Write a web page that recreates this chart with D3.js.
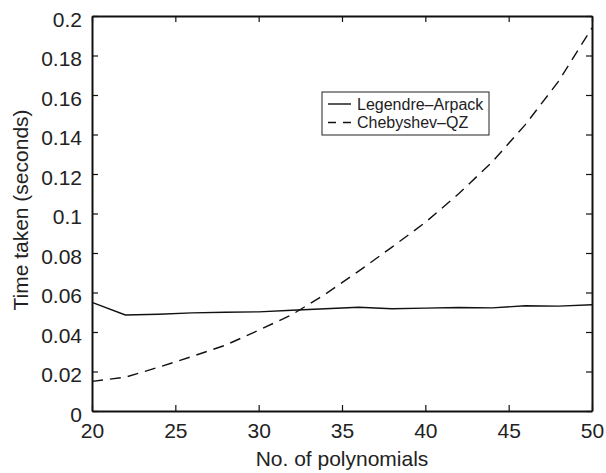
<!DOCTYPE html>
<meta charset="utf-8">
<body style="margin:0;background:#fff">
<script src="https://cdnjs.cloudflare.com/ajax/libs/d3/7.8.5/d3.min.js"></script>
<svg id="chart" width="606" height="473"></svg>
<script>
// polynomial counts, every second one from 20 to 50
var nPoly = [20, 22, 24, 26, 28, 30, 32, 34, 36, 38, 40, 42, 44, 46, 48, 50]
// seconds
var legendreArpack = [0.0550, 0.0486, 0.0490, 0.0497, 0.0500, 0.0502, 0.0510, 0.0518, 0.0525, 0.0518,
                      0.0521, 0.0524, 0.0522, 0.0533, 0.0531, 0.0538]
var chebyshevQZ = [0.0150, 0.0171, 0.0222, 0.0276, 0.0333, 0.0409, 0.0488, 0.0592, 0.0708, 0.0830,
                   0.0955, 0.1100, 0.1260, 0.1450, 0.1670, 0.1940]
var xTicks = [20, 25, 30, 35, 40, 45, 50]
var yTicks = [0, 0.02, 0.04, 0.06, 0.08, 0.1, 0.12, 0.14, 0.16, 0.18, 0.2]

var m = {left: 92, top: 16, right: 14, bottom: 62}
var W = 606 - m.left - m.right, H = 473 - m.top - m.bottom
var font = "'Liberation Sans', Arial, sans-serif"

var svg = d3.select("#chart")
var g = svg.append("g").attr("transform", "translate(" + m.left + "," + m.top + ")")

var x = d3.scaleLinear().domain([20, 50]).range([0, W])
var y = d3.scaleLinear().domain([0, 0.2]).range([H, 0])
var fmt = function(d) { return String(+d.toFixed(2)) }

// axes on all four sides, ticks pointing in
var bottom = g.append("g").attr("transform", "translate(0," + H + ")")
  .call(d3.axisBottom(x).tickValues(xTicks).tickSizeInner(-6).tickSizeOuter(0).tickPadding(12))
var left = g.append("g")
  .call(d3.axisLeft(y).tickValues(yTicks).tickFormat(fmt).tickSizeInner(-6).tickSizeOuter(0).tickPadding(10))
g.append("g")
  .call(d3.axisTop(x).tickValues(xTicks).tickSizeInner(-6).tickSizeOuter(0).tickFormat(""))
g.append("g").attr("transform", "translate(" + W + ",0)")
  .call(d3.axisRight(y).tickValues(yTicks).tickSizeInner(-6).tickSizeOuter(0).tickFormat(""))

g.selectAll(".domain").attr("stroke", "#111").attr("stroke-width", 2)
g.selectAll(".tick line").attr("stroke", "#111").attr("stroke-width", 1.2)
g.selectAll(".tick text").attr("font-family", font).attr("font-size", 21).attr("fill", "#222")
left.selectAll(".tick text").attr("dy", "0.48em")

// data lines
var line = d3.line().x(function(d) { return x(d[0]) }).y(function(d) { return y(d[1]) })
g.append("path").datum(d3.zip(nPoly, legendreArpack))
  .attr("d", line).attr("fill", "none").attr("stroke", "#111").attr("stroke-width", 1.4)
g.append("path").datum(d3.zip(nPoly, chebyshevQZ))
  .attr("d", line).attr("fill", "none").attr("stroke", "#111").attr("stroke-width", 1.4)
  .attr("stroke-dasharray", "11,7")

// axis titles
svg.append("text").attr("x", m.left + W / 2).attr("y", 466)
  .attr("text-anchor", "middle").attr("font-family", font).attr("font-size", 21).attr("fill", "#222")
  .text("No. of polynomials")
svg.append("text").attr("transform", "translate(28," + 210 + ") rotate(-90)")
  .attr("text-anchor", "middle").attr("font-family", font).attr("font-size", 21).attr("fill", "#222")
  .text("Time taken (seconds)")

// legend
var names = ["Legendre\u2013Arpack", "Chebyshev\u2013QZ"]
var dashes = [null, "8,7"]
var lg = svg.append("g").attr("transform", "translate(322,92)")
lg.append("rect").attr("width", 167).attr("height", 43)
  .attr("fill", "#fff").attr("stroke", "#222").attr("stroke-width", 1)
names.forEach(function(n, i) {
  var yy = 12 + i * 18.5
  lg.append("line").attr("x1", 6).attr("x2", 29).attr("y1", yy).attr("y2", yy)
    .attr("stroke", "#111").attr("stroke-width", 1.4).attr("stroke-dasharray", dashes[i])
  lg.append("text").attr("x", 35).attr("y", yy + 5.5)
    .attr("font-family", font).attr("font-size", 16).attr("fill", "#222").text(n)
})
</script>
</body>
